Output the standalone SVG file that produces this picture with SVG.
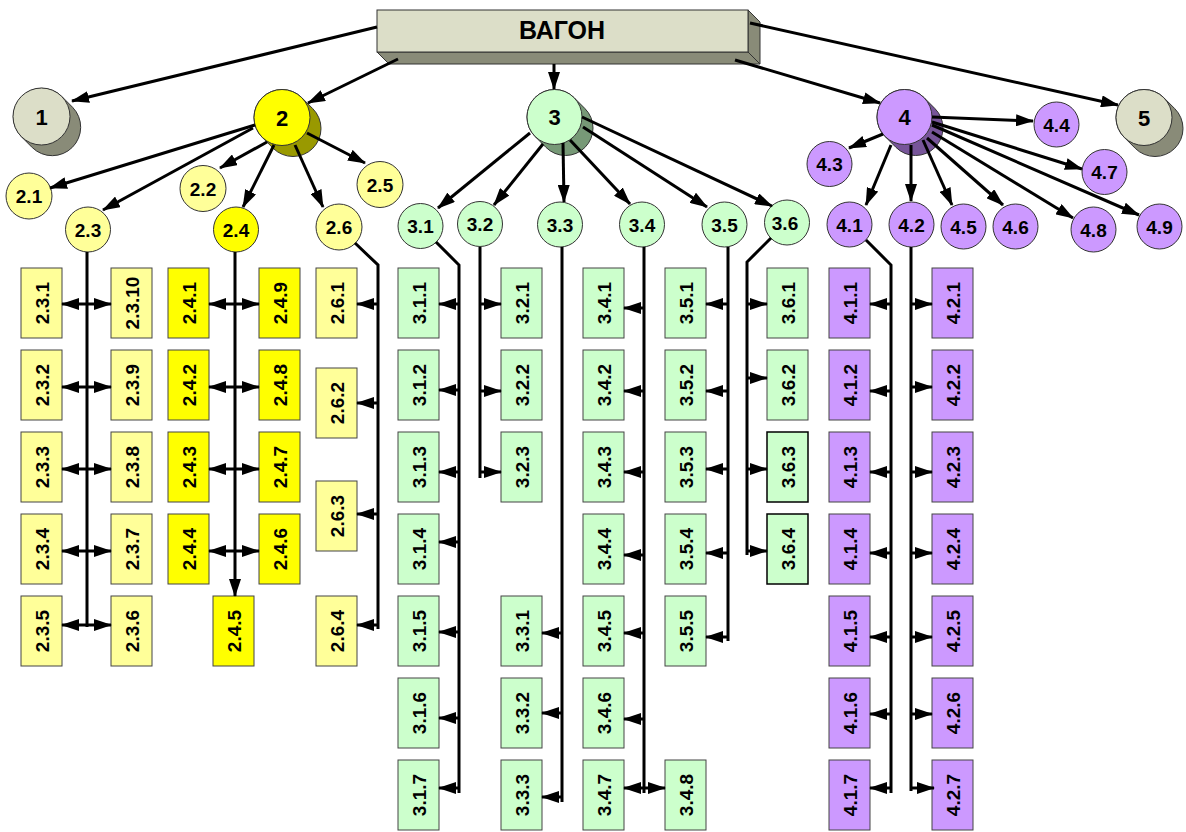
<svg xmlns="http://www.w3.org/2000/svg" width="1186" height="832" viewBox="0 0 1186 832">
<style>
text{font-family:"Liberation Sans",Arial,sans-serif;font-weight:bold;fill:#000;text-anchor:middle}
.t0{font-size:25px}
.t1{font-size:22px}
.t2{font-size:19px}
.tr{font-size:19px}
.c{stroke:#333;stroke-width:1}
.r{stroke:#444;stroke-width:1}
.gry{fill:#dcdec8}.gryd{fill:#898b78}
.ylw{fill:#ffff00}.ylwd{fill:#999900}.lyl{fill:#ffff99}
.grn{fill:#ccffcc}.grnd{fill:#779977}
.pur{fill:#cc99ff}.purd{fill:#775599}
#connectors path{fill:none;stroke:#000;stroke-width:3}
.a{marker-end:url(#ah)}
.aa{marker-start:url(#ah);marker-end:url(#ah)}
</style>
<defs>
<marker id="ah" viewBox="0 0 18 12" refX="17" refY="6" markerWidth="18" markerHeight="12" markerUnits="userSpaceOnUse" orient="auto-start-reverse"><path d="M0,0 L18,6 L0,12 z" fill="#000"/></marker>
</defs>
<rect width="1186" height="832" fill="#fff"/>

<g id="root">
<polygon points="377,52 748,52 760,64 389,64" class="gryd c"/>
<polygon points="748,10 760,22 760,64 748,52" class="gryd c"/>
<rect x="377" y="10" width="371" height="42" class="gry c"/>
<text x="562" y="39" class="t0">ВАГОН</text>
</g>

<g id="n1">
<path d="M21.35,136.65 L32.35,147.65 A28.5,28.5 0 0 0 72.65,107.35 L61.65,96.35 A28.5,28.5 0 0 0 21.35,136.65 Z" class="gryd c"/>
<circle cx="41.5" cy="116.5" r="28.5" class="gry c"/><text x="41.5" y="124.5" class="t1">1</text>
</g>
<g id="n2">
<path d="M262.2,137.3 L273.2,148.3 A28,28 0 0 0 312.8,108.7 L301.8,97.7 A28,28 0 0 0 262.2,137.3 Z" class="ylwd c"/>
<circle cx="282" cy="117.5" r="28" class="ylw c"/><text x="282" y="125.5" class="t1">2</text>
</g>
<g id="n3">
<path d="M535.05,136.45 L546.05,147.45 A27.5,27.5 0 0 0 584.95,108.55 L573.95,97.55 A27.5,27.5 0 0 0 535.05,136.45 Z" class="grnd c"/>
<circle cx="554.5" cy="117" r="27.5" class="grn c"/><text x="554.5" y="125" class="t1">3</text>
</g>
<g id="n4">
<path d="M885.05,136.45 L896.05,147.45 A27.5,27.5 0 0 0 934.95,108.55 L923.95,97.55 A27.5,27.5 0 0 0 885.05,136.45 Z" class="purd c"/>
<circle cx="904.5" cy="117" r="27.5" class="pur c"/><text x="904.5" y="125" class="t1">4</text>
</g>
<g id="n5">
<path d="M1124.2,137.3 L1135.2,148.3 A28,28 0 0 0 1174.8,108.7 L1163.8,97.7 A28,28 0 0 0 1124.2,137.3 Z" class="gryd c"/>
<circle cx="1144" cy="117.5" r="28" class="gry c"/><text x="1144" y="125.5" class="t1">5</text>
</g>

<g id="n2_1"><circle cx="29" cy="196" r="23" class="lyl c"/><text x="29" y="203" class="t2">2.1</text></g>
<g id="n2_2"><circle cx="203" cy="188.5" r="23" class="lyl c"/><text x="203" y="195.5" class="t2">2.2</text></g>
<g id="n2_3"><circle cx="88" cy="229.5" r="22.5" class="lyl c"/><text x="88" y="236.5" class="t2">2.3</text></g>
<g id="n2_4"><circle cx="236" cy="229.5" r="22.5" class="ylw c"/><text x="236" y="236.5" class="t2">2.4</text></g>
<g id="n2_5"><circle cx="380" cy="184.5" r="23" class="lyl c"/><text x="380" y="191.5" class="t2">2.5</text></g>
<g id="n2_6"><circle cx="339" cy="227" r="23" class="lyl c"/><text x="339" y="234" class="t2">2.6</text></g>
<g id="n3_1"><circle cx="420.5" cy="226" r="22.5" class="grn c"/><text x="420.5" y="233" class="t2">3.1</text></g>
<g id="n3_2"><circle cx="480" cy="224" r="22.5" class="grn c"/><text x="480" y="231" class="t2">3.2</text></g>
<g id="n3_3"><circle cx="560" cy="224.5" r="22.5" class="grn c"/><text x="560" y="231.5" class="t2">3.3</text></g>
<g id="n3_4"><circle cx="642" cy="224.5" r="22.5" class="grn c"/><text x="642" y="231.5" class="t2">3.4</text></g>
<g id="n3_5"><circle cx="724.5" cy="224.5" r="22.5" class="grn c"/><text x="724.5" y="231.5" class="t2">3.5</text></g>
<g id="n3_6"><circle cx="787" cy="222.5" r="22.5" class="grn c"/><text x="785" y="229.5" class="t2">3.6</text></g>
<g id="n4_1"><circle cx="849.5" cy="224.5" r="22.5" class="pur c"/><text x="849.5" y="231.5" class="t2">4.1</text></g>
<g id="n4_2"><circle cx="911.5" cy="224.5" r="22.5" class="pur c"/><text x="911.5" y="231.5" class="t2">4.2</text></g>
<g id="n4_3"><circle cx="829.5" cy="164" r="22.5" class="pur c"/><text x="829.5" y="171" class="t2">4.3</text></g>
<g id="n4_4"><circle cx="1056.5" cy="124.5" r="22.5" class="pur c"/><text x="1056.5" y="131.5" class="t2">4.4</text></g>
<g id="n4_5"><circle cx="963.5" cy="226.5" r="22.5" class="pur c"/><text x="963.5" y="233.5" class="t2">4.5</text></g>
<g id="n4_6"><circle cx="1015.5" cy="226.5" r="22.5" class="pur c"/><text x="1015.5" y="233.5" class="t2">4.6</text></g>
<g id="n4_7"><circle cx="1104.5" cy="172" r="22.5" class="pur c"/><text x="1104.5" y="179" class="t2">4.7</text></g>
<g id="n4_8"><circle cx="1093.5" cy="229.5" r="22.5" class="pur c"/><text x="1093.5" y="236.5" class="t2">4.8</text></g>
<g id="n4_9"><circle cx="1159.5" cy="226.5" r="22.5" class="pur c"/><text x="1159.5" y="233.5" class="t2">4.9</text></g>

<g id="b2_3_1"><rect x="21" y="268" width="41" height="70" class="lyl r"/><text transform="translate(48.5,303) rotate(-90)" class="tr">2.3.1</text></g>
<g id="b2_3_2"><rect x="21" y="350" width="41" height="70" class="lyl r"/><text transform="translate(48.5,385) rotate(-90)" class="tr">2.3.2</text></g>
<g id="b2_3_3"><rect x="21" y="432" width="41" height="70" class="lyl r"/><text transform="translate(48.5,467) rotate(-90)" class="tr">2.3.3</text></g>
<g id="b2_3_4"><rect x="21" y="514" width="41" height="70" class="lyl r"/><text transform="translate(48.5,549) rotate(-90)" class="tr">2.3.4</text></g>
<g id="b2_3_5"><rect x="21" y="596" width="41" height="70" class="lyl r"/><text transform="translate(48.5,631) rotate(-90)" class="tr">2.3.5</text></g>
<g id="b2_3_10"><rect x="111" y="268" width="41" height="70" class="lyl r"/><text transform="translate(138.5,303) rotate(-90)" class="tr">2.3.10</text></g>
<g id="b2_3_9"><rect x="111" y="350" width="41" height="70" class="lyl r"/><text transform="translate(138.5,385) rotate(-90)" class="tr">2.3.9</text></g>
<g id="b2_3_8"><rect x="111" y="432" width="41" height="70" class="lyl r"/><text transform="translate(138.5,467) rotate(-90)" class="tr">2.3.8</text></g>
<g id="b2_3_7"><rect x="111" y="514" width="41" height="70" class="lyl r"/><text transform="translate(138.5,549) rotate(-90)" class="tr">2.3.7</text></g>
<g id="b2_3_6"><rect x="111" y="596" width="41" height="70" class="lyl r"/><text transform="translate(138.5,631) rotate(-90)" class="tr">2.3.6</text></g>
<g id="b2_4_1"><rect x="168" y="268" width="41" height="70" class="ylw r"/><text transform="translate(195.5,303) rotate(-90)" class="tr">2.4.1</text></g>
<g id="b2_4_2"><rect x="168" y="350" width="41" height="70" class="ylw r"/><text transform="translate(195.5,385) rotate(-90)" class="tr">2.4.2</text></g>
<g id="b2_4_3"><rect x="168" y="432" width="41" height="70" class="ylw r"/><text transform="translate(195.5,467) rotate(-90)" class="tr">2.4.3</text></g>
<g id="b2_4_4"><rect x="168" y="514" width="41" height="70" class="ylw r"/><text transform="translate(195.5,549) rotate(-90)" class="tr">2.4.4</text></g>
<g id="b2_4_9"><rect x="259" y="268" width="41" height="70" class="ylw r"/><text transform="translate(286.5,303) rotate(-90)" class="tr">2.4.9</text></g>
<g id="b2_4_8"><rect x="259" y="350" width="41" height="70" class="ylw r"/><text transform="translate(286.5,385) rotate(-90)" class="tr">2.4.8</text></g>
<g id="b2_4_7"><rect x="259" y="432" width="41" height="70" class="ylw r"/><text transform="translate(286.5,467) rotate(-90)" class="tr">2.4.7</text></g>
<g id="b2_4_6"><rect x="259" y="514" width="41" height="70" class="ylw r"/><text transform="translate(286.5,549) rotate(-90)" class="tr">2.4.6</text></g>
<g id="b2_4_5"><rect x="213" y="596" width="41" height="70" class="ylw r"/><text transform="translate(240.5,631) rotate(-90)" class="tr">2.4.5</text></g>
<g id="b2_6_1"><rect x="316" y="268" width="41" height="70" class="lyl r"/><text transform="translate(343.5,303) rotate(-90)" class="tr">2.6.1</text></g>
<g id="b2_6_2"><rect x="316" y="368" width="41" height="70" class="lyl r"/><text transform="translate(343.5,403) rotate(-90)" class="tr">2.6.2</text></g>
<g id="b2_6_3"><rect x="316" y="481" width="41" height="70" class="lyl r"/><text transform="translate(343.5,516) rotate(-90)" class="tr">2.6.3</text></g>
<g id="b2_6_4"><rect x="316" y="596" width="41" height="70" class="lyl r"/><text transform="translate(343.5,631) rotate(-90)" class="tr">2.6.4</text></g>

<g id="b3_1_1"><rect x="398" y="268" width="41" height="70" class="grn r"/><text transform="translate(425.5,303) rotate(-90)" class="tr">3.1.1</text></g>
<g id="b3_1_2"><rect x="398" y="350" width="41" height="70" class="grn r"/><text transform="translate(425.5,385) rotate(-90)" class="tr">3.1.2</text></g>
<g id="b3_1_3"><rect x="398" y="432" width="41" height="70" class="grn r"/><text transform="translate(425.5,467) rotate(-90)" class="tr">3.1.3</text></g>
<g id="b3_1_4"><rect x="398" y="514" width="41" height="70" class="grn r"/><text transform="translate(425.5,549) rotate(-90)" class="tr">3.1.4</text></g>
<g id="b3_1_5"><rect x="398" y="596" width="41" height="70" class="grn r"/><text transform="translate(425.5,631) rotate(-90)" class="tr">3.1.5</text></g>
<g id="b3_1_6"><rect x="398" y="678" width="41" height="70" class="grn r"/><text transform="translate(425.5,713) rotate(-90)" class="tr">3.1.6</text></g>
<g id="b3_1_7"><rect x="398" y="760" width="41" height="70" class="grn r"/><text transform="translate(425.5,795) rotate(-90)" class="tr">3.1.7</text></g>
<g id="b3_2_1"><rect x="501" y="268" width="41" height="70" class="grn r"/><text transform="translate(528.5,303) rotate(-90)" class="tr">3.2.1</text></g>
<g id="b3_2_2"><rect x="501" y="350" width="41" height="70" class="grn r"/><text transform="translate(528.5,385) rotate(-90)" class="tr">3.2.2</text></g>
<g id="b3_2_3"><rect x="501" y="432" width="41" height="70" class="grn r"/><text transform="translate(528.5,467) rotate(-90)" class="tr">3.2.3</text></g>
<g id="b3_3_1"><rect x="501" y="596" width="41" height="70" class="grn r"/><text transform="translate(528.5,631) rotate(-90)" class="tr">3.3.1</text></g>
<g id="b3_3_2"><rect x="501" y="678" width="41" height="70" class="grn r"/><text transform="translate(528.5,713) rotate(-90)" class="tr">3.3.2</text></g>
<g id="b3_3_3"><rect x="501" y="760" width="41" height="70" class="grn r"/><text transform="translate(528.5,795) rotate(-90)" class="tr">3.3.3</text></g>
<g id="b3_4_1"><rect x="583" y="268" width="41" height="70" class="grn r"/><text transform="translate(610.5,303) rotate(-90)" class="tr">3.4.1</text></g>
<g id="b3_4_2"><rect x="583" y="350" width="41" height="70" class="grn r"/><text transform="translate(610.5,385) rotate(-90)" class="tr">3.4.2</text></g>
<g id="b3_4_3"><rect x="583" y="432" width="41" height="70" class="grn r"/><text transform="translate(610.5,467) rotate(-90)" class="tr">3.4.3</text></g>
<g id="b3_4_4"><rect x="583" y="514" width="41" height="70" class="grn r"/><text transform="translate(610.5,549) rotate(-90)" class="tr">3.4.4</text></g>
<g id="b3_4_5"><rect x="583" y="596" width="41" height="70" class="grn r"/><text transform="translate(610.5,631) rotate(-90)" class="tr">3.4.5</text></g>
<g id="b3_4_6"><rect x="583" y="678" width="41" height="70" class="grn r"/><text transform="translate(610.5,713) rotate(-90)" class="tr">3.4.6</text></g>
<g id="b3_4_7"><rect x="583" y="760" width="41" height="70" class="grn r"/><text transform="translate(610.5,795) rotate(-90)" class="tr">3.4.7</text></g>
<g id="b3_4_8"><rect x="665" y="760" width="41" height="70" class="grn r"/><text transform="translate(692.5,795) rotate(-90)" class="tr">3.4.8</text></g>
<g id="b3_5_1"><rect x="665" y="268" width="41" height="70" class="grn r"/><text transform="translate(692.5,303) rotate(-90)" class="tr">3.5.1</text></g>
<g id="b3_5_2"><rect x="665" y="350" width="41" height="70" class="grn r"/><text transform="translate(692.5,385) rotate(-90)" class="tr">3.5.2</text></g>
<g id="b3_5_3"><rect x="665" y="432" width="41" height="70" class="grn r"/><text transform="translate(692.5,467) rotate(-90)" class="tr">3.5.3</text></g>
<g id="b3_5_4"><rect x="665" y="514" width="41" height="70" class="grn r"/><text transform="translate(692.5,549) rotate(-90)" class="tr">3.5.4</text></g>
<g id="b3_5_5"><rect x="665" y="596" width="41" height="70" class="grn r"/><text transform="translate(692.5,631) rotate(-90)" class="tr">3.5.5</text></g>
<g id="b3_6_1"><rect x="767" y="268" width="41" height="70" class="grn r"/><text transform="translate(794.5,303) rotate(-90)" class="tr">3.6.1</text></g>
<g id="b3_6_2"><rect x="767" y="350" width="41" height="70" class="grn r"/><text transform="translate(794.5,385) rotate(-90)" class="tr">3.6.2</text></g>
<g id="b3_6_3"><rect x="767" y="432" width="41" height="70" class="grn" stroke="#000" stroke-width="1.5"/><text transform="translate(794.5,467) rotate(-90)" class="tr">3.6.3</text></g>
<g id="b3_6_4"><rect x="767" y="514" width="41" height="70" class="grn" stroke="#000" stroke-width="1.5"/><text transform="translate(794.5,549) rotate(-90)" class="tr">3.6.4</text></g>

<g id="b4_1_1"><rect x="829" y="268" width="41" height="70" class="pur r"/><text transform="translate(856.5,303) rotate(-90)" class="tr">4.1.1</text></g>
<g id="b4_1_2"><rect x="829" y="350" width="41" height="70" class="pur r"/><text transform="translate(856.5,385) rotate(-90)" class="tr">4.1.2</text></g>
<g id="b4_1_3"><rect x="829" y="432" width="41" height="70" class="pur r"/><text transform="translate(856.5,467) rotate(-90)" class="tr">4.1.3</text></g>
<g id="b4_1_4"><rect x="829" y="514" width="41" height="70" class="pur r"/><text transform="translate(856.5,549) rotate(-90)" class="tr">4.1.4</text></g>
<g id="b4_1_5"><rect x="829" y="596" width="41" height="70" class="pur r"/><text transform="translate(856.5,631) rotate(-90)" class="tr">4.1.5</text></g>
<g id="b4_1_6"><rect x="829" y="678" width="41" height="70" class="pur r"/><text transform="translate(856.5,713) rotate(-90)" class="tr">4.1.6</text></g>
<g id="b4_1_7"><rect x="829" y="760" width="41" height="70" class="pur r"/><text transform="translate(856.5,795) rotate(-90)" class="tr">4.1.7</text></g>
<g id="b4_2_1"><rect x="932" y="268" width="41" height="70" class="pur r"/><text transform="translate(959.5,303) rotate(-90)" class="tr">4.2.1</text></g>
<g id="b4_2_2"><rect x="932" y="350" width="41" height="70" class="pur r"/><text transform="translate(959.5,385) rotate(-90)" class="tr">4.2.2</text></g>
<g id="b4_2_3"><rect x="932" y="432" width="41" height="70" class="pur r"/><text transform="translate(959.5,467) rotate(-90)" class="tr">4.2.3</text></g>
<g id="b4_2_4"><rect x="932" y="514" width="41" height="70" class="pur r"/><text transform="translate(959.5,549) rotate(-90)" class="tr">4.2.4</text></g>
<g id="b4_2_5"><rect x="932" y="596" width="41" height="70" class="pur r"/><text transform="translate(959.5,631) rotate(-90)" class="tr">4.2.5</text></g>
<g id="b4_2_6"><rect x="932" y="678" width="41" height="70" class="pur r"/><text transform="translate(959.5,713) rotate(-90)" class="tr">4.2.6</text></g>
<g id="b4_2_7"><rect x="932" y="760" width="41" height="70" class="pur r"/><text transform="translate(959.5,795) rotate(-90)" class="tr">4.2.7</text></g>

<g id="connectors">
<path class="a" d="M377,27 L72,101"/>
<path class="a" d="M398,59 L308,103"/>
<path class="a" d="M554,64 L554,89"/>
<path class="a" d="M735,60 L880,103"/>
<path class="a" d="M750,23 L1118,105"/>

<path class="a" d="M255,125 L50,188"/>
<path class="a" d="M253,128 L103,210"/>
<path class="a" d="M267,142 L220,168"/>
<path class="a" d="M274,145 L243,207"/>
<path class="a" d="M295,145 L323,207"/>
<path class="a" d="M307,133 L365,163"/>

<path class="a" d="M530,133 L438,208"/>
<path class="a" d="M543,144 L494,205"/>
<path class="a" d="M563,143 L564,202"/>
<path class="a" d="M570,140 L630,204"/>
<path class="a" d="M583,127 L707,207"/>
<path class="a" d="M582,117 L772,206"/>

<path class="a" d="M883,134 L849,148"/>
<path class="a" d="M891,145 L866,205"/>
<path class="a" d="M911,145 L911,201"/>
<path class="a" d="M923,140 L952,205"/>
<path class="a" d="M927,138 L1003,205"/>
<path class="a" d="M932,132 L1073,218"/>
<path class="a" d="M932,125 L1139,215"/>
<path class="a" d="M932,122 L1082,169"/>
<path class="a" d="M932,117 L1033,121"/>

<path d="M87,252 L87,627"/>
<path class="aa" d="M62,304 L111,304"/>
<path class="aa" d="M62,387 L111,387"/>
<path class="aa" d="M62,469 L111,469"/>
<path class="aa" d="M62,551 L111,551"/>
<path class="aa" d="M62,625 L111,625"/>
<path class="a" d="M235,252 L235,596"/>
<path class="aa" d="M209,304 L259,304"/>
<path class="aa" d="M209,387 L259,387"/>
<path class="aa" d="M209,469 L259,469"/>
<path class="aa" d="M209,551 L259,551"/>
<path d="M355,243 L378,265 L378,629"/>
<path class="a" d="M378,304 L357,304"/>
<path class="a" d="M378,403 L357,403"/>
<path class="a" d="M378,514 L357,514"/>
<path class="a" d="M378,625 L357,625"/>
<path d="M436,242 L459,265 L459,793"/>
<path class="a" d="M459,304 L439,304"/>
<path class="a" d="M459,390 L439,390"/>
<path class="a" d="M459,472 L439,472"/>
<path class="a" d="M459,542 L439,542"/>
<path class="a" d="M459,632 L439,632"/>
<path class="a" d="M459,718 L439,718"/>
<path class="a" d="M459,788 L439,788"/>
<path d="M480,247 L480,478"/>
<path class="a" d="M480,304 L501,304"/>
<path class="a" d="M480,391 L501,391"/>
<path class="a" d="M480,472 L501,472"/>
<path d="M562,247 L562,802"/>
<path class="a" d="M562,633 L542,633"/>
<path class="a" d="M562,713 L542,713"/>
<path class="a" d="M562,797 L542,797"/>
<path d="M644,247 L644,793"/>
<path class="a" d="M644,308 L624,308"/>
<path class="a" d="M644,391 L624,391"/>
<path class="a" d="M644,472 L624,472"/>
<path class="a" d="M644,555 L624,555"/>
<path class="a" d="M644,633 L624,633"/>
<path class="a" d="M644,719 L624,719"/>
<path class="aa" d="M624,788 L665,788"/>
<path d="M728,247 L728,641"/>
<path class="a" d="M728,304 L706,304"/>
<path class="a" d="M728,391 L706,391"/>
<path class="a" d="M728,469 L706,469"/>
<path class="a" d="M728,553 L706,553"/>
<path class="a" d="M728,637 L706,637"/>
<path d="M771,238 L747,262 L747,555"/>
<path class="a" d="M747,304 L767,304"/>
<path class="a" d="M747,378 L767,378"/>
<path class="a" d="M747,469 L767,469"/>
<path class="a" d="M747,551 L767,551"/>
<path d="M866,240 L891,265 L891,793"/>
<path class="a" d="M891,304 L870,304"/>
<path class="a" d="M891,391 L870,391"/>
<path class="a" d="M891,472 L870,472"/>
<path class="a" d="M891,553 L870,553"/>
<path class="a" d="M891,637 L870,637"/>
<path class="a" d="M891,714 L870,714"/>
<path class="a" d="M891,788 L870,788"/>
<path d="M911,247 L911,791"/>
<path class="a" d="M911,304 L932,304"/>
<path class="a" d="M911,387 L932,387"/>
<path class="a" d="M911,472 L932,472"/>
<path class="a" d="M911,553 L932,553"/>
<path class="a" d="M911,637 L932,637"/>
<path class="a" d="M911,714 L932,714"/>
<path class="a" d="M911,788 L934,788"/>
</g>
</svg>
